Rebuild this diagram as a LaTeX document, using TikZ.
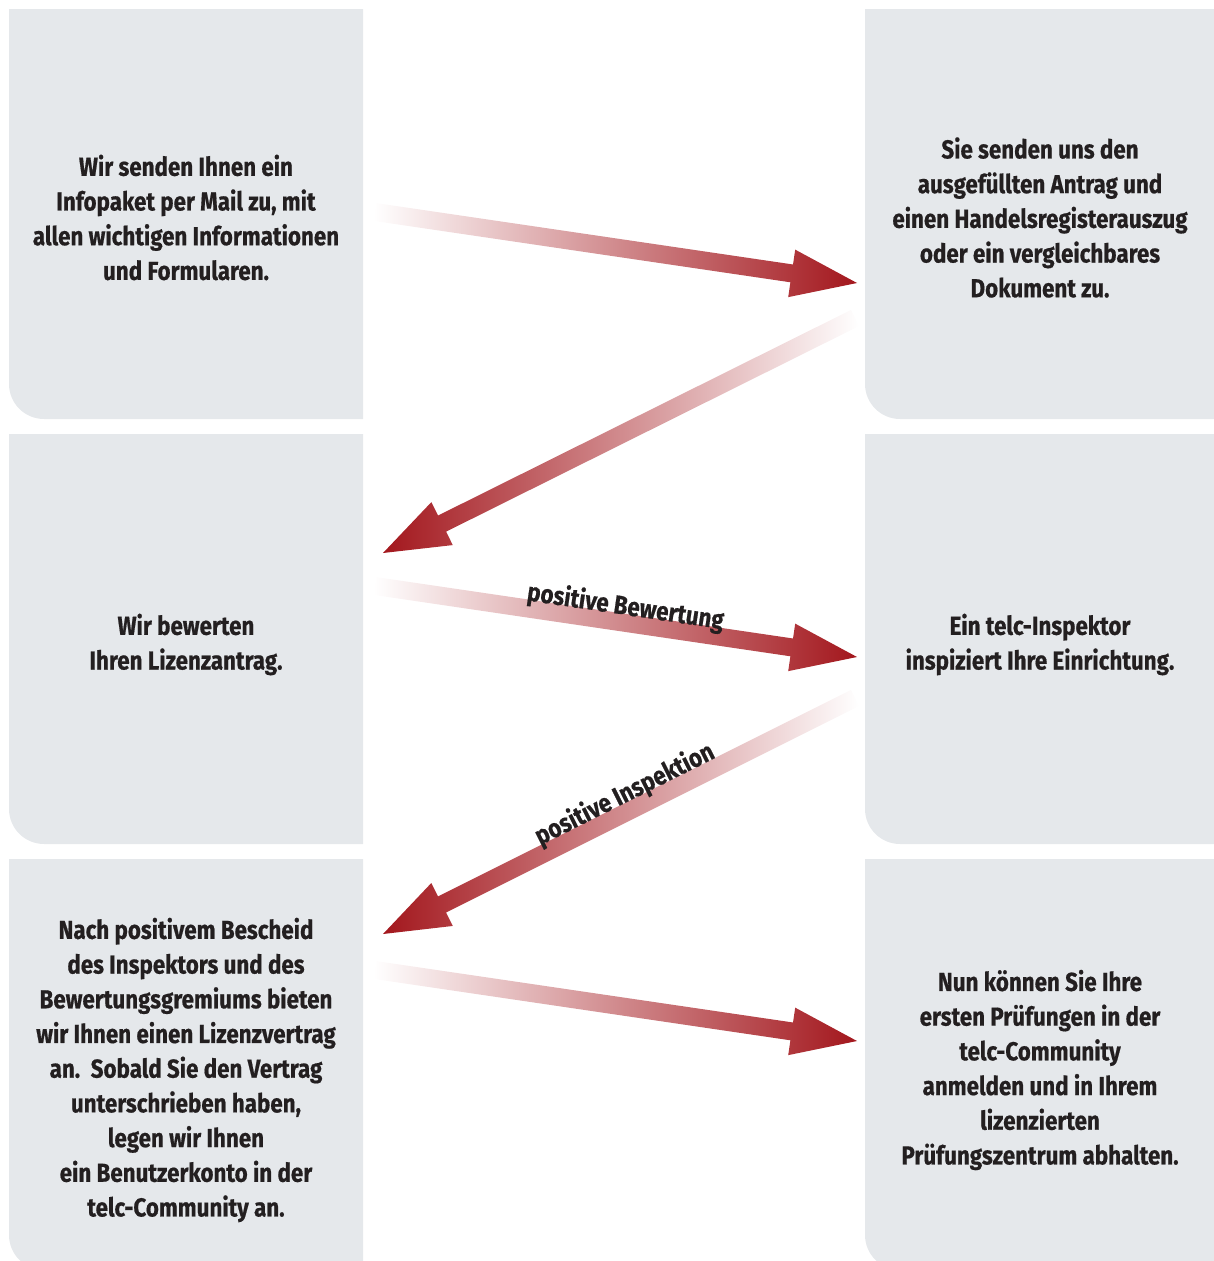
\documentclass[tikz,border=0pt]{standalone}
\usepackage{fontspec}
\setmainfont{Fira Sans}[FakeStretch=0.86, BoldFeatures={FakeBold=0.6}]
\usetikzlibrary{calc}
\definecolor{boxc}{HTML}{E5E8EB}
\definecolor{redc}{HTML}{A3171D}
\definecolor{txtc}{HTML}{231F20}
\tikzset{
  boxtext/.style={align=center, text=txtc, inner sep=0pt, font=\bfseries\fontsize{26}{34.7}\selectfont},
  lbl/.style={text=txtc, inner sep=0pt, font=\bfseries\fontsize{26}{30}\selectfont},
  fwd/.style={left color=white, right color=redc},
  bwd/.style={left color=redc, right color=white},
}
\newcommand\greybox[4]{%
  \fill[boxc] (#1,#2) -- (#3,#2) -- (#3,#4) -- ({#1+35},#4) .. controls ({#1+15.7},#4) and (#1,{#4-15.7}) .. (#1,{#4-35}) -- cycle;}
\newcommand\fatarrow[4]{%
  \coordinate (#4) at ($(#3)!66pt!(#2)$);
  \shade[#1] ($(#2)!9pt!90:(#3)$) -- ($(#4)!9pt!90:(#3)$) -- ($(#4)!24pt!90:(#3)$) -- (#3)
    -- ($(#4)!24pt!-90:(#3)$) -- ($(#4)!9pt!-90:(#3)$) -- ($(#2)!9pt!-90:(#3)$) -- cycle;}
\begin{document}
\begin{tikzpicture}[x=1pt,y=-1pt]
\useasboundingbox (0,0) rectangle (1214,1261);
\clip (0,0) rectangle (1214,1261);
% boxes
\greybox{9}{9}{363}{419}
\greybox{865}{9}{1230}{419}
\greybox{9}{434}{363}{844}
\greybox{865}{434}{1230}{844}
\greybox{9}{859}{363}{1270}
\greybox{865}{859}{1230}{1270}
% arrow coordinates
\coordinate (t1) at (375,212);  \coordinate (h1) at (857,283);
\coordinate (t2) at (855,318);  \coordinate (h2) at (383,553);
\coordinate (t3) at (375,586);  \coordinate (h3) at (857,657);
\coordinate (t4) at (855,698);  \coordinate (h4) at (383,934);
\coordinate (t5) at (375,970);  \coordinate (h5) at (857,1041);
\fatarrow{fwd}{t1}{h1}{m1}
\fatarrow{bwd}{t2}{h2}{m2}
\fatarrow{fwd}{t3}{h3}{m3}
\fatarrow{bwd}{t4}{h4}{m4}
\fatarrow{fwd}{t5}{h5}{m5}
% labels
\path ($(t3)!8pt!90:(h3)$) -- node[lbl, pos=0.515, sloped, anchor=base]{positive Bewertung} ($(h3)!8pt!-90:(t3)$);
\path ($(t4)!9pt!-90:(h4)$) -- node[lbl, pos=0.472, sloped, anchor=base]{positive Inspektion} ($(h4)!9pt!90:(t4)$);
% texts
\node[boxtext] (b1) at (186,217.5) {Wir senden Ihnen ein\\Infopaket per Mail zu, mit\\allen wichtigen Informationen\\und Formularen.};
\node[boxtext] (b2) at (1040,217.5) {Sie senden uns den\\ausgefüllten Antrag und\\einen Handelsregisterauszug\\oder ein vergleichbares\\Dokument zu.};
\node[boxtext] (b3) at (186,644.5) {Wir bewerten\\Ihren Lizenzantrag.};
\node[boxtext] (b4) at (1040,644.5) {Ein telc-Inspektor\\inspiziert Ihre Einrichtung.};
\node[boxtext] (b5) at (186,1070) {Nach positivem Bescheid\\des Inspektors und des\\Bewertungsgremiums bieten\\wir Ihnen einen Lizenzvertrag\\an.\ \ Sobald Sie den Vertrag\\unterschrieben haben,\\legen wir Ihnen\\ein Benutzerkonto in der\\telc-Community an.};
\node[boxtext] (b6) at (1040,1070) {Nun können Sie Ihre\\ersten Prüfungen in der\\telc-Community\\anmelden und in Ihrem\\lizenzierten\\Prüfungszentrum abhalten.};
\end{tikzpicture}
\end{document}
